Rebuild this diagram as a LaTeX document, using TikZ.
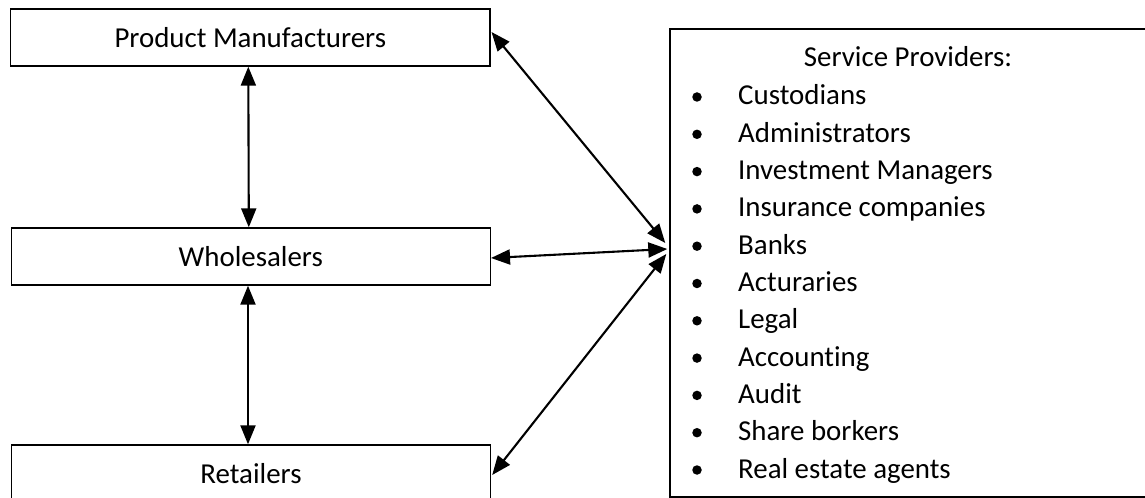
\documentclass[tikz,border=0pt]{standalone}
\usepackage{fontspec}
\setmainfont{Carlito}[Ligatures=NoCommon]
\usetikzlibrary{arrows.meta}
\begin{document}
\begin{tikzpicture}[x=1bp,y=-1bp,
  box/.style={draw=black, line width=1.4bp, minimum width=479bp, minimum height=57bp, inner sep=0bp, font=\fontsize{29}{35}\selectfont},
  listtext/.style={anchor=base west, inner sep=0bp, font=\fontsize{29}{35}\selectfont},
  bullet/.style={circle, fill=black, inner sep=0bp, minimum size=9.5bp},
  link/.style={line width=2.1bp, {Triangle[length=19bp,width=15bp]}-{Triangle[length=19bp,width=15bp]}}
]
\useasboundingbox (0,0) rectangle (1145,498);
\clip (0,0) rectangle (1145,498);
\fill[white] (0,0) rectangle (1145,498);
\node[box] (pm) at (250.3,37.5) {Product Manufacturers};
\node[box] (wh) at (250.8,256.5) {Wholesalers};
\node[box] (rt) at (251,473.5) {Retailers};
\node[draw=black, line width=1.4bp, minimum width=560bp, minimum height=468bp, inner sep=0bp] (sp) at (950,263) {};
\node[anchor=base, inner sep=0bp, font=\fontsize{29}{35}\selectfont] (title) at (908,67) {Service Providers:};
\foreach \t [count=\i from 0] in {Custodians, Administrators, Investment Managers, Insurance companies, Banks, Acturaries, Legal, Accounting, Audit, Share borkers, Real estate agents} {
  \node[bullet] (b\i) at (697,{97+37.3*\i}) {};
  \node[listtext] (item\i) at (738,{105+37.3*\i}) {\t};
}
\draw[link] ([xshift=-2bp]pm.south) -- ([xshift=-2bp]wh.north);
\draw[link] ([xshift=-2.8bp]wh.south) -- ([xshift=-3bp]rt.north);
\draw[link] ([yshift=5.5bp,xshift=1bp]pm.east) -- ([yshift=20bp,xshift=-4bp]sp.west);
\draw[link] ([yshift=-1.5bp]wh.east) -- ([yshift=14bp,xshift=-2bp]sp.west);
\draw[link] ([yshift=-1.5bp,xshift=1bp]rt.east) -- ([yshift=9bp,xshift=-3bp]sp.west);
\end{tikzpicture}
\end{document}
